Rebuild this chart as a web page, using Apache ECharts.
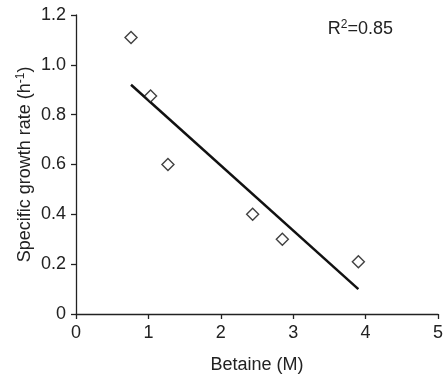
<!DOCTYPE html>
<html>
<head>
<meta charset="utf-8">
<script src="https://cdn.jsdelivr.net/npm/echarts@6/dist/echarts.min.js"></script>
<style>
  html, body { margin: 0; padding: 0; background: #fff; }
  #chart { width: 445px; height: 376px; }
</style>
</head>
<body>
<div id="chart"></div>
<script>
// measured points
var betaine = [0.76, 1.03, 1.27, 2.44, 2.85, 3.90];
var growthRate = [1.11, 0.875, 0.60, 0.40, 0.30, 0.21];
// regression line ends
var fitLine = [[0.76, 0.92], [3.90, 0.10]];
var xTicks = [0, 1, 2, 3, 4, 5];
var yTicks = [0, 0.2, 0.4, 0.6, 0.8, 1.0, 1.2];
var r2Text = '0.85';

var font = 'Liberation Sans, Arial, sans-serif';
var fs = 18;
var myChart = echarts.init(document.getElementById('chart'));

var axisCommon = {
    axisLine: { show: true, onZero: false, lineStyle: { color: '#222', width: 1.3 } },
    axisTick: { show: true, inside: false, length: 5, lineStyle: { color: '#222', width: 1.3 } },
    splitLine: { show: false },
    nameMoveOverlap: false,
    nameTextStyle: { color: '#222', fontSize: fs, fontFamily: font }
};

myChart.setOption({
    backgroundColor: '#fff',
    animation: false,
    grid: { left: 76, right: 7, top: 15, bottom: 62, outerBoundsMode: 'none', containLabel: false },
    xAxis: Object.assign({}, axisCommon, {
        type: 'value',
        min: xTicks[0],
        max: xTicks[xTicks.length - 1],
        interval: 1,
        name: 'Betaine (M)',
        nameLocation: 'middle',
        nameGap: 42,
        axisLabel: { color: '#222', fontSize: fs, fontFamily: font, margin: 10 }
    }),
    yAxis: Object.assign({}, axisCommon, {
        type: 'value',
        min: yTicks[0],
        max: yTicks[yTicks.length - 1],
        interval: 0.2,
        name: '{n|Specific growth rate (h}{s|-1}{n|)}',
        nameLocation: 'middle',
        nameGap: 40,
        nameTextStyle: {
            rich: {
                n: { color: '#222', fontSize: fs, fontFamily: font },
                s: { color: '#222', fontSize: 12, fontFamily: font, verticalAlign: 'top', padding: [0, 0, 9, 0] }
            }
        },
        axisLabel: {
            color: '#222', fontSize: fs, fontFamily: font, margin: 10,
            formatter: function (v) { return v === 0 ? '0' : v.toFixed(1); }
        }
    }),
    graphic: [{
        type: 'text',
        right: 52,
        top: 19,
        style: {
            text: '{n|R}{s|2}{n|=' + r2Text + '}',
            rich: {
                n: { fontSize: fs, fontFamily: font, fill: '#222' },
                s: { fontSize: 12, fontFamily: font, fill: '#222', verticalAlign: 'top', padding: [0, 0, 9, 0] }
            }
        }
    }],
    series: [
        {
            type: 'line',
            data: fitLine,
            symbol: 'none',
            lineStyle: { color: '#111', width: 2.5 },
            z: 2
        },
        {
            type: 'scatter',
            data: betaine.map(function (x, i) { return [x, growthRate[i]]; }),
            symbol: 'diamond',
            symbolSize: [12, 12],
            itemStyle: { color: '#fff', borderColor: '#111', borderWidth: 1.4 },
            z: 3
        }
    ]
});
</script>
</body>
</html>
